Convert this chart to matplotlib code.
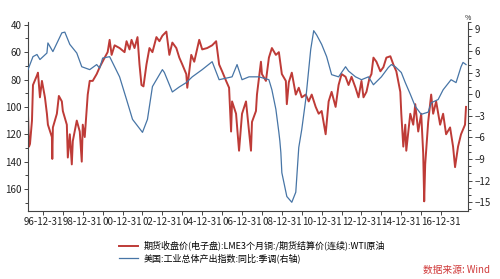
import matplotlib
matplotlib.use("Agg")
import matplotlib.pyplot as plt
from matplotlib.ticker import MultipleLocator, FixedLocator

plt.rcParams['font.family'] = ['Noto Sans CJK SC', 'DejaVu Sans']

# copper / oil ratio (left axis, inverted)
red_x = [1996.25, 1996.3, 1996.35, 1996.45, 1996.5, 1996.7, 1996.75, 1996.85, 1996.95,
         1997.1, 1997.2, 1997.25, 1997.45, 1997.47, 1997.5, 1997.7, 1997.8, 1997.95,
         1998.0, 1998.2, 1998.25, 1998.35, 1998.45, 1998.5, 1998.7, 1998.85, 1998.95,
         1999.0, 1999.1, 1999.25, 1999.35, 1999.5, 1999.7, 1999.85, 2000.1, 2000.25,
         2000.35, 2000.45, 2000.6, 2000.85, 2001.1, 2001.2, 2001.35, 2001.45, 2001.6,
         2001.75, 2001.85, 2001.95, 2002.05, 2002.2, 2002.35, 2002.5, 2002.7, 2002.85,
         2003.0, 2003.2, 2003.35, 2003.5, 2003.7, 2003.85, 2004.0, 2004.2, 2004.25,
         2004.45, 2004.6, 2004.85, 2005.0, 2005.25, 2005.5, 2005.7, 2005.85, 2006.0,
         2006.2, 2006.35, 2006.45, 2006.5, 2006.7, 2006.85, 2007.0, 2007.2, 2007.35,
         2007.45, 2007.5, 2007.7, 2007.75, 2007.95, 2008.0, 2008.2, 2008.35, 2008.5,
         2008.7, 2008.85, 2009.0, 2009.2, 2009.25, 2009.35, 2009.5, 2009.7, 2009.85,
         2010.0, 2010.2, 2010.35, 2010.5, 2010.7, 2010.85, 2011.0, 2011.2, 2011.35,
         2011.5, 2011.7, 2011.85, 2012.0, 2012.2, 2012.35, 2012.5, 2012.7, 2012.85,
         2013.0, 2013.1, 2013.25, 2013.4, 2013.5, 2013.6, 2013.75, 2013.95, 2014.1,
         2014.25, 2014.45, 2014.6, 2014.75, 2014.95, 2015.0, 2015.1, 2015.2, 2015.25,
         2015.45, 2015.6, 2015.7, 2015.85, 2016.0, 2016.1, 2016.15, 2016.2, 2016.35,
         2016.5, 2016.6, 2016.75, 2016.95, 2017.1, 2017.25, 2017.45, 2017.6, 2017.7,
         2017.85, 2018.0, 2018.2, 2018.25]
red_y = [105, 129, 127, 110, 84, 77, 75, 93, 81,
         93, 105, 113, 122, 138, 115, 105, 92, 96,
         103, 113, 137, 120, 142, 125, 110, 118, 140,
         113, 122, 91, 81, 81, 76, 71, 64, 60,
         51, 62, 55, 57, 60, 52, 58, 51, 57,
         49, 69, 84, 85, 69, 57, 60, 49, 52,
         48, 45, 62, 53, 57, 64, 69, 76, 86,
         62, 67, 51, 58, 57, 55, 52, 69, 74,
         81, 86, 118, 96, 105, 132, 105, 96, 118,
         132, 111, 103, 91, 67, 76, 81, 64, 57,
         62, 60, 76, 81, 98, 82, 75, 91, 86,
         93, 91, 96, 91, 100, 105, 103, 120, 96,
         89, 100, 84, 76, 78, 84, 78, 86, 93,
         81, 93, 89, 79, 76, 64, 67, 74, 71,
         64, 63, 69, 74, 89, 105, 129, 113, 132,
         105, 113, 98, 118, 105, 134, 169, 142, 111,
         91, 105, 96, 113, 105, 120, 115, 129, 144,
         129, 120, 113, 100]

# US industrial production yoy (right axis)
blue_x = [1996.25, 1996.5, 1996.7, 1996.85, 1997.2, 1997.25, 1997.5, 1997.95, 1998.1,
          1998.35, 1998.7, 1998.95, 1999.35, 1999.7, 1999.85, 2000.0, 2000.35, 2000.6,
          2000.85, 2001.2, 2001.5, 2002.0, 2002.25, 2002.5, 2003.0, 2003.1, 2003.5,
          2003.85, 2004.2, 2004.5, 2005.0, 2005.5, 2005.85, 2006.5, 2006.75, 2007.0,
          2007.35, 2007.85, 2008.35, 2008.5, 2008.7, 2008.85, 2008.9, 2008.95, 2009.0,
          2009.25, 2009.5, 2009.7, 2009.85, 2010.0, 2010.2, 2010.45, 2010.6, 2010.75,
          2011.0, 2011.25, 2011.5, 2011.85, 2012.2, 2012.35, 2012.7, 2013.0, 2013.35,
          2013.6, 2014.0, 2014.35, 2014.5, 2014.7, 2015.0, 2015.2, 2015.45, 2015.7,
          2016.0, 2016.35, 2016.5, 2016.85, 2017.1, 2017.5, 2017.75, 2018.0, 2018.1,
          2018.25]
blue_y = [3.4, 5.2, 5.5, 4.8, 5.7, 7.1, 5.9, 8.5, 8.6,
          6.9, 5.7, 3.8, 3.4, 4.1, 3.6, 5.0, 5.2, 3.8,
          2.4, -0.75, -3.5, -5.3, -3.5, 1.05, 3.4, 3.0, 0.3,
          1.0, 1.6, 2.4, 3.4, 4.5, 2.0, 2.4, 4.1, 2.0,
          2.4, 2.4, 2.0, 0.6, -2.1, -5.3, -6.5, -8.1, -10.9,
          -14.2, -15.0, -13.6, -7.4, -4.9, -0.75, 6.2, 8.8, 8.2,
          6.9, 5.2, 2.7, 2.4, 3.8, 3.2, 2.4, 2.0, 2.4,
          1.3, 2.4, 3.7, 4.1, 3.8, 3.0, 1.6, 0.0, -1.7,
          -2.8, -2.5, -1.2, -0.75, 0.6, 2.0, 1.6, 3.8, 4.4,
          4.1]

tick_years = list(range(1997, 2018))
tick_labels = [f"{(y - 1) % 100:02d}-12-31" if (y - 1997) % 2 == 0 else "" for y in tick_years]

red_label = "期货收盘价(电子盘):LME3个月铜:/期货结算价(连续):WTI原油"
blue_label = "美国:工业总体产出指数:同比:季调(右轴)"

fig = plt.figure(figsize=(5, 2.79), dpi=100)
ax = fig.add_axes([0.056, 0.244, 0.88, 0.677])
ax2 = ax.twinx()

red_color = "#BE3B37"
blue_color = "#4775A6"
axis_color = "#444444"

l1, = ax.plot(red_x, red_y, color=red_color, lw=1.4)
l2, = ax2.plot(blue_x, blue_y, color=blue_color, lw=0.9)

ax.set_xlim(1996.25, 2018.35)
ax.set_ylim(176, 38)
ax2.set_ylim(-16.2, 10)

ax.yaxis.set_major_locator(FixedLocator([40, 60, 80, 100, 120, 140, 160]))
ax.yaxis.set_minor_locator(MultipleLocator(10))
ax2.yaxis.set_major_locator(FixedLocator([-15, -12, -9, -6, -3, 0, 3, 6, 9]))
ax2.yaxis.set_minor_locator(MultipleLocator(1))
ax.set_xticks(tick_years)
ax.set_xticklabels(tick_labels)

for a in (ax, ax2):
    a.spines['top'].set_visible(False)
    for s in a.spines.values():
        s.set_color(axis_color)
        s.set_linewidth(0.8)
    a.tick_params(which='both', colors=axis_color, labelcolor='#222222', labelsize=7,
                  width=0.7, pad=1.5)
    a.tick_params(which='major', length=3)
    a.tick_params(which='minor', length=2)
ax.spines['right'].set_visible(False)
ax2.spines['left'].set_visible(False)
ax2.spines['bottom'].set_visible(False)

ax2.text(1.0, 1.0, "%", transform=ax2.transAxes, fontsize=5, ha='center', va='bottom',
         color='#222222')

fig.legend([l1, l2], [red_label, blue_label], loc='upper left', bbox_to_anchor=(0.23, 0.15),
           frameon=False, fontsize=6.5, handlelength=2.2, handletextpad=0.6,
           labelspacing=0.35, borderaxespad=0)

fig.text(0.98, 0.015, "数据来源: Wind", color="#D03A3A", fontsize=7, style='italic',
         ha='right', va='bottom')

fig.savefig("out.png", dpi=100)
